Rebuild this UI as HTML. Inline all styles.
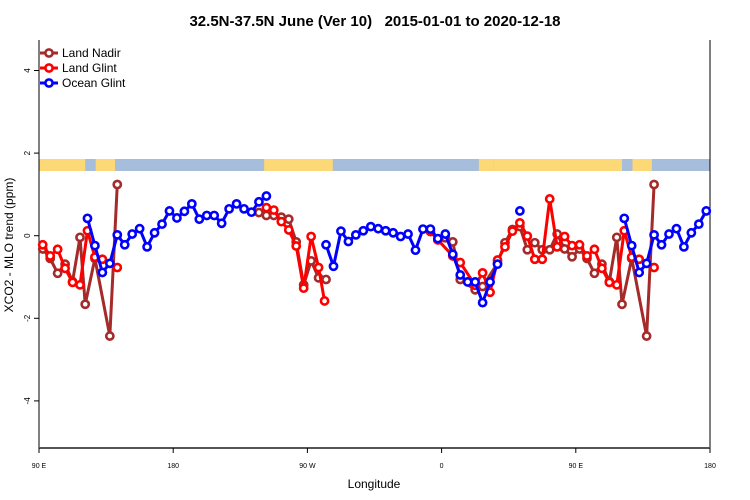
<!DOCTYPE html>
<html><head><meta charset="utf-8"><style>
body{margin:0;background:#fff;}
svg{display:block;font-family:"Liberation Sans",sans-serif;}
</style></head><body>
<svg id="chart" width="750" height="500">
<text x="375" y="26" text-anchor="middle" font-size="15" font-weight="bold" style="white-space:pre">32.5N-37.5N June (Ver 10)   2015-01-01 to 2020-12-18</text>
<text transform="translate(13,245) rotate(-90)" text-anchor="middle" font-size="12">XCO2 - MLO trend (ppm)</text>
<text x="374" y="488" text-anchor="middle" font-size="12">Longitude</text>
<g id="band"></g>
<g id="axes"></g>
<g id="series"></g>
<g id="legend"></g>
</svg>
<script>
const yTicks=[4,2,0,-2,-4];
const xTickLons=[90,180,270,360,450,540];
const xTickLabels=["90 E","180","90 W","0","90 E","180"];
const nadirLon=[92.5,97.5,102.5,107.5,112.5,117.5,121,127.5,137.5,142.5,237.5,242.5,247.5,252.5,257.5,262.5,267.5,272.5,277.5,282.5,357.5,362.5,367.5,372.5,382.5,387.5,397.5,402.5,407.5,412.5,417.5,422.5,427.5,432.5,437.5,442.5,447.5];
const nadirVal=[-0.32,-0.55,-0.91,-0.69,-1.11,-0.04,-1.66,-0.55,-2.43,1.24,0.56,0.49,0.49,0.45,0.40,-0.15,-1.19,-0.61,-1.02,-1.06,-0.10,-0.05,-0.15,-1.06,-1.31,-1.23,-0.67,-0.17,0.15,0.22,-0.34,-0.17,-0.34,-0.34,0.04,-0.32,-0.51];
const glintLon=[92.5,97.5,102.5,107.5,112.5,117.5,122.5,127.5,132.5,142.5,242.5,247.5,252.5,257.5,262.5,267.5,272.5,277.5,281.5,352.5,357.5,367.5,372.5,382.5,387.5,392.5,397.5,402.5,407.5,412.5,417.5,422.5,427.5,432.5,437.5,442.5,447.5];
const glintVal=[-0.22,-0.49,-0.33,-0.79,-1.13,-1.19,0.12,-0.52,-0.57,-0.77,0.68,0.62,0.34,0.14,-0.25,-1.27,-0.02,-0.77,-1.58,0.10,-0.10,-0.49,-0.65,-1.2,-0.90,-1.37,-0.59,-0.27,0.11,0.31,-0.01,-0.57,-0.57,0.89,-0.27,-0.02,-0.24];
const oceanLon=[122.5,127.5,132.5,137.5,142.5,147.5,152.5,157.5,162.5,167.5,172.5,177.5,182.5,187.5,192.5,197.5,202.5,207.5,212.5,217.5,222.5,227.5,232.5,237.5,242.5,282.5,287.5,292.5,297.5,302.5,307.5,312.5,317.5,322.5,327.5,332.5,337.5,342.5,347.5,352.5,357.5,362.5,367.5,372.5,377.5,382.5,387.5,392.5,397.5,412.5];
const oceanVal=[0.42,-0.24,-0.89,-0.67,0.02,-0.22,0.04,0.17,-0.27,0.07,0.28,0.60,0.43,0.59,0.77,0.40,0.49,0.49,0.30,0.65,0.77,0.65,0.57,0.82,0.96,-0.22,-0.74,0.11,-0.14,0.02,0.12,0.22,0.17,0.12,0.07,-0.02,0.04,-0.35,0.16,0.16,-0.07,0.04,-0.45,-0.95,-1.12,-1.12,-1.62,-1.12,-0.69,0.60];
const landStart=[90,128,241,385,395];
const landEnd=[121,141,287,395,475];

const NS='http://www.w3.org/2000/svg';
const X0=39,X1=710,L0=90,L1=540,Y0=235.7,PU=41.3,TOP=40,BOT=448;
function xs(l){return X0+(l-L0)*(X1-X0)/(L1-L0);}
function ys(v){return Y0-v*PU;}
function mk(tag,attrs,parent){const e=document.createElementNS(NS,tag);for(const k in attrs)e.setAttribute(k,attrs[k]);parent.appendChild(e);return e;}

const band=document.getElementById('band');
let r=mk('rect',{x:X0,y:159,width:X1-X0,height:12,fill:'#a6bddb'},band);


for(let i=0;i<landStart.length;i++){
  for(const off of [0,360]){
    const a=Math.max(L0,landStart[i]+off),b=Math.min(L1,landEnd[i]+off);
    if(b<=a)continue;
    const s=mk('rect',{x:xs(a),y:159,width:xs(b)-xs(a),height:12,fill:'#fdd876'},band);
    
    
  }
}

const ax=document.getElementById('axes');
mk('line',{x1:X0,y1:TOP,x2:X0,y2:BOT,stroke:'#000','stroke-width':1},ax);
mk('line',{x1:X1,y1:TOP,x2:X1,y2:BOT,stroke:'#000','stroke-width':1},ax);
mk('line',{x1:X0,y1:BOT,x2:X1,y2:BOT,stroke:'#555','stroke-width':2},ax);
yTicks.forEach(v=>{
  mk('line',{x1:X0-5,y1:ys(v),x2:X0,y2:ys(v),stroke:'#000'},ax);
  const t=mk('text',{transform:`translate(${X0-9},${ys(v)}) rotate(-90)`,'text-anchor':'middle','font-size':8},ax);
  t.textContent=v;
  
  
});
xTickLons.forEach((l,i)=>{
  mk('line',{x1:xs(l),y1:BOT,x2:xs(l),y2:BOT+5,stroke:'#000'},ax);
  const t=mk('text',{x:xs(l),y:BOT+20,'text-anchor':'middle','font-size':7},ax);
  t.textContent=xTickLabels[i];
  
  
});

const ser=document.getElementById('series');
function drawSeries(lons,vals,color,name){
  const g=mk('g',{},ser);
  
  
  let pts=[];
  lons.forEach((l,i)=>{pts.push([l,vals[i]]);if(l+360<=L1)pts.push([l+360,vals[i]]);});
  pts.sort((a,b)=>a[0]-b[0]);
  let seg=[];const segs=[];
  pts.forEach((p,i)=>{if(i>0&&p[0]-pts[i-1][0]>12){segs.push(seg);seg=[];}seg.push(p);});
  segs.push(seg);
  segs.forEach(s=>{if(s.length>1)mk('polyline',{points:s.map(p=>xs(p[0])+','+ys(p[1])).join(' '),fill:'none',stroke:color,'stroke-width':3,'stroke-linejoin':'round'},g);});
  pts.forEach(p=>{
    const c=mk('circle',{cx:xs(p[0]),cy:ys(p[1]),r:3.6,fill:'#fff',stroke:color,'stroke-width':2.6},g);
    
    
  });
}
drawSeries(nadirLon,nadirVal,'#a52a2a','land-nadir-series');
drawSeries(glintLon,glintVal,'#ff0000','land-glint-series');
drawSeries(oceanLon,oceanVal,'#0000ff','ocean-glint-series');

const leg=document.getElementById('legend');
[['Land Nadir','#a52a2a'],['Land Glint','#ff0000'],['Ocean Glint','#0000ff']].forEach((e,i)=>{
  const y=53+i*15;
  const g=mk('g',{},leg);
  
  
  mk('line',{x1:40,y1:y,x2:58,y2:y,stroke:e[1],'stroke-width':3},g);
  mk('circle',{cx:49,cy:y,r:3.6,fill:'#fff',stroke:e[1],'stroke-width':2.6},g);
  const t=mk('text',{x:62,y:y+4,'font-size':12},g);
  t.textContent=e[0];
});
</script>
</body></html>
